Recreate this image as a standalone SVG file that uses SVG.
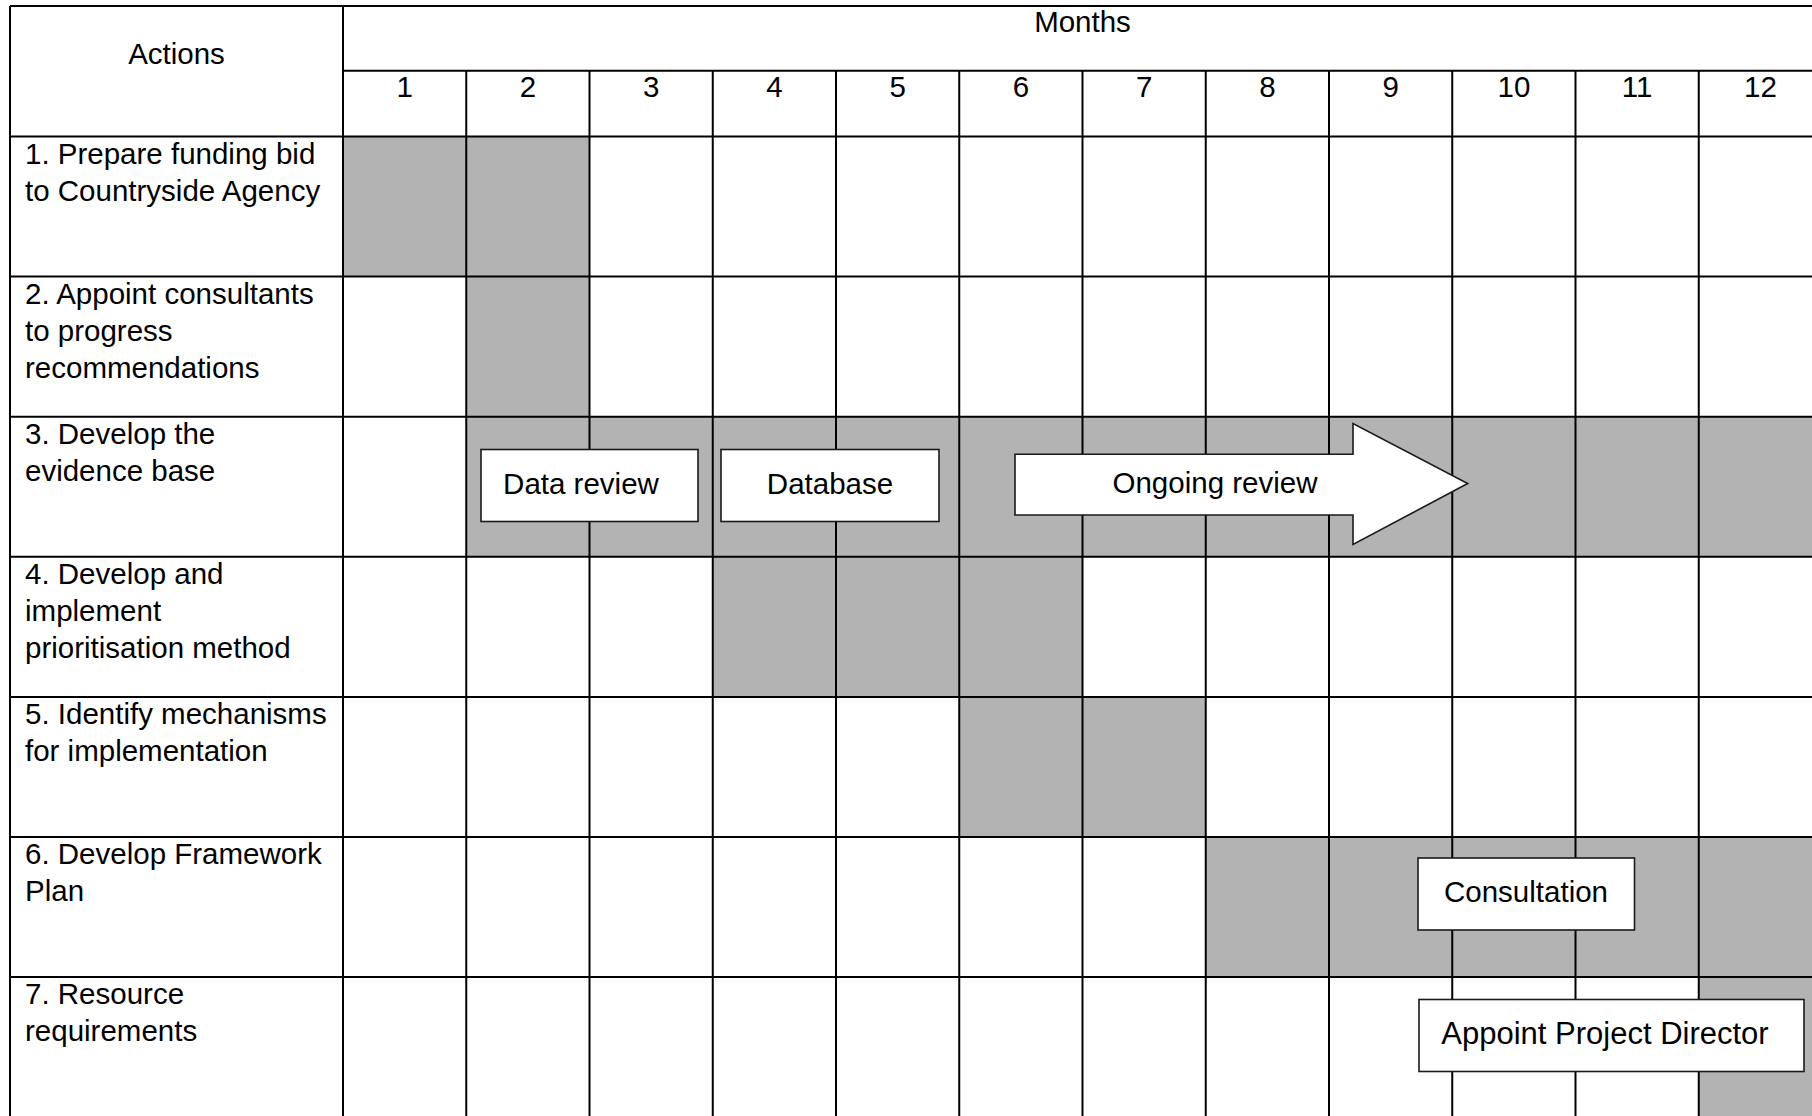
<svg xmlns="http://www.w3.org/2000/svg" width="1812" height="1116" viewBox="0 0 1812 1116">
<style>
text{font-family:"Liberation Sans",Arial,sans-serif;font-size:29.5px;fill:#000}
.c{text-anchor:middle}
.g{fill:#b3b3b3}
.ln{stroke:#000;stroke-width:2;fill:none}
.box{fill:#fff;stroke:#1a1a1a;stroke-width:1.6}
</style>
<rect width="1812" height="1116" fill="#fff"/>
<g id="shading">
<rect class="g" x="343" y="136.5" width="246.5" height="140.1"/>
<rect class="g" x="466.25" y="276.6" width="123.25" height="140.1"/>
<rect class="g" x="466.25" y="416.7" width="1346" height="140.1"/>
<rect class="g" x="712.75" y="556.8" width="369.75" height="140.1"/>
<rect class="g" x="959.25" y="696.9" width="246.5" height="140.1"/>
<rect class="g" x="1205.75" y="837" width="607" height="140.1"/>
<rect class="g" x="1698.75" y="977.1" width="114" height="140"/>
</g>
<g id="grid" class="ln">
<path d="M10 6H1812M343 70.7H1812M10 136.5H1812M10 276.6H1812M10 416.7H1812M10 556.8H1812M10 696.9H1812M10 837H1812M10 977.1H1812"/>
<path d="M10 6V1116M343 6V1116M466.25 70.7V1116M589.5 70.7V1116M712.75 70.7V1116M836 70.7V1116M959.25 70.7V1116M1082.5 70.7V1116M1205.75 70.7V1116M1329 70.7V1116M1452.25 70.7V1116M1575.5 70.7V1116M1698.75 70.7V1116"/>
</g>
<g id="header">
<text class="c" x="176.5" y="63.5">Actions</text>
<text class="c" x="1082.5" y="32">Months</text>
<text class="c" x="404.6" y="97">1</text>
<text class="c" x="527.9" y="97">2</text>
<text class="c" x="651.1" y="97">3</text>
<text class="c" x="774.4" y="97">4</text>
<text class="c" x="897.6" y="97">5</text>
<text class="c" x="1020.9" y="97">6</text>
<text class="c" x="1144.1" y="97">7</text>
<text class="c" x="1267.4" y="97">8</text>
<text class="c" x="1390.6" y="97">9</text>
<text class="c" x="1513.9" y="97">10</text>
<text class="c" x="1637.1" y="97">11</text>
<text class="c" x="1760.4" y="97">12</text>
</g>
<g id="action-1"><text x="25" y="163.5">1. Prepare funding bid<tspan x="25" dy="37">to Countryside Agency</tspan></text></g>
<g id="action-2"><text x="25" y="303.6">2. Appoint consultants<tspan x="25" dy="37">to progress</tspan><tspan x="25" dy="37">recommendations</tspan></text></g>
<g id="action-3"><text x="25" y="443.7">3. Develop the<tspan x="25" dy="37">evidence base</tspan></text></g>
<g id="action-4"><text x="25" y="583.8">4. Develop and<tspan x="25" dy="37">implement</tspan><tspan x="25" dy="37">prioritisation method</tspan></text></g>
<g id="action-5"><text x="25" y="723.9">5. Identify mechanisms<tspan x="25" dy="37">for implementation</tspan></text></g>
<g id="action-6"><text x="25" y="864">6. Develop Framework<tspan x="25" dy="37">Plan</tspan></text></g>
<g id="action-7"><text x="25" y="1004.1">7. Resource<tspan x="25" dy="37">requirements</tspan></text></g>
<g id="data-review"><rect class="box" x="481" y="449.5" width="217" height="72"/><text class="c" x="581" y="494">Data review</text></g>
<g id="database"><rect class="box" x="721" y="449.5" width="218" height="72"/><text class="c" x="830" y="494">Database</text></g>
<g id="ongoing-review"><polygon class="box" points="1015,454.3 1353,454.3 1353,423.5 1467.7,483.5 1353,544.5 1353,515 1015,515"/><text class="c" x="1215" y="493">Ongoing review</text></g>
<g id="consultation"><rect class="box" x="1418" y="858" width="216.5" height="72"/><text class="c" x="1526" y="902">Consultation</text></g>
<g id="appoint-director"><rect class="box" x="1419" y="999.5" width="385" height="72"/><text class="c" x="1605" y="1043.5" style="font-size:31px">Appoint Project Director</text></g>
<g id="connectors"></g>
</svg>
